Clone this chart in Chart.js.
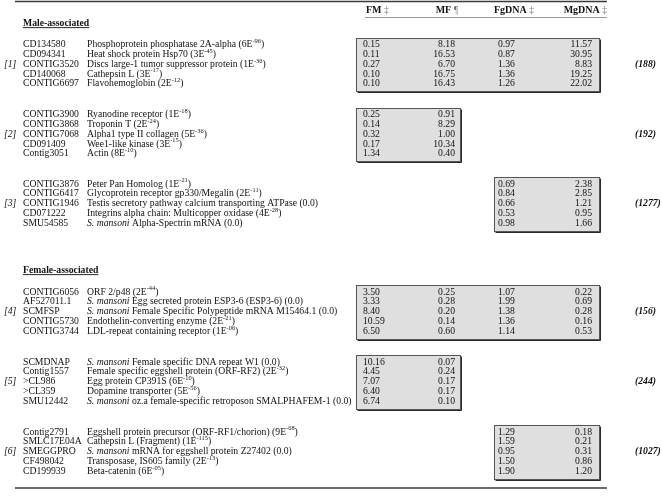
<!DOCTYPE html>
<html><head><meta charset="utf-8">
<script src="https://cdn.jsdelivr.net/npm/chart.js@4.4.1/dist/chart.umd.min.js"></script>
<style>html,body{margin:0;padding:0;background:#fff}canvas{display:block}</style>
</head><body>
<canvas id="c" width="662" height="496"></canvas>
<script>
// ---------------- DATA ----------------
const sections = ['Male-associated', 'Female-associated'];
const groupLabels = ['[1]', '[2]', '[3]', '[4]', '[5]', '[6]'];
const groupCounts = ['(188)', '(192)', '(1277)', '(156)', '(244)', '(1027)'];
const columnHeaders = ['FM', 'MF', 'FgDNA', 'MgDNA'];
const headerMarks = ['\u2021', '\u00B6', '\u2021', '\u2021'];

const ids = [
  'CD134580','CD094341','CONTIG3520','CD140068','CONTIG6697',
  'CONTIG3900','CONTIG3868','CONTIG7068','CD091409','Contig3051',
  'CONTIG3876','CONTIG6417','CONTIG1946','CD071222','SMU54585',
  'CONTIG6056','AF527011.1','SCMFSP','CONTIG5730','CONTIG3744',
  'SCMDNAP','Contig1557','>CL986','>CL359','SMU12442',
  'Contig2791','SMLC17E04A','SMEGGPRO','CF498042','CD199939'
];
const descriptions = [
  'Phosphoprotein phosphatase 2A-alpha','Heat shock protein Hsp70','Discs large-1 tumor suppressor protein','Cathepsin L','Flavohemoglobin',
  'Ryanodine receptor','Troponin T','Alpha1 type II collagen','Wee1-like kinase','Actin',
  'Peter Pan Homolog','Glycoprotein receptor gp330/Megalin','Testis secretory pathway calcium transporting ATPase','Integrins alpha chain: Multicopper oxidase','S. mansoni Alpha-Spectrin mRNA',
  'ORF 2/p48','S. mansoni Egg secreted protein ESP3-6 (ESP3-6)','S. mansoni Female Specific Polypeptide mRNA M15464.1','Endothelin-converting enzyme','LDL-repeat containing receptor',
  'S. mansoni Female specific DNA repeat W1','Female specific eggshell protein (ORF-RF2)','Egg protein CP391S','Dopamine transporter','S. mansoni oz.a female-specific retroposon SMALPHAFEM-1',
  'Eggshell protein precursor (ORF-RF1/chorion)','Cathepsin L (Fragment)','S. mansoni mRNA for eggshell protein Z27402','Transposase, IS605 family','Beta-catenin'
];
const eValues = [
  '6E-96','3E-45','1E-36','3E-17','2E-12',
  '1E-18','2E-24','5E-36','3E-15','8E-10',
  '1E-21','2E-11','0.0','4E-28','0.0',
  '2E-44','0.0','0.0','2E-21','1E-06',
  '0.0','2E-32','6E-10','5E-56','0.0',
  '9E-68','1E-115','0.0','2E-13','6E-05'
];
const fmValues = [0.15,0.11,0.27,0.10,0.10, 0.25,0.14,0.32,0.17,1.34, null,null,null,null,null,
  3.50,3.33,8.40,10.59,6.50, 10.16,4.45,7.07,6.40,6.74, null,null,null,null,null];
const mfValues = [8.18,16.53,6.70,16.75,16.43, 0.91,8.29,1.00,10.34,0.40, null,null,null,null,null,
  0.25,0.28,0.20,0.14,0.60, 0.07,0.24,0.17,0.17,0.10, null,null,null,null,null];
const fgDnaValues = [0.97,0.87,1.36,1.36,1.26, null,null,null,null,null, 0.69,0.84,0.66,0.53,0.98,
  1.07,1.99,1.38,1.36,1.14, null,null,null,null,null, 1.29,1.59,0.95,1.50,1.90];
const mgDnaValues = [11.57,30.95,8.83,19.25,22.02, null,null,null,null,null, 2.38,2.85,1.21,0.95,1.66,
  0.22,0.69,0.28,0.16,0.53, null,null,null,null,null, 0.18,0.21,0.31,0.86,1.20];
const rowsPerGroup = 5;

// ---------------- LAYOUT ----------------
const W = 662, H = 496;
const FONT = '"Liberation Serif","Times New Roman",serif';
const BODY = 9.7;
const ROW_STEP = 9.85;
const groupFirstRowY = [44.5, 114.5, 184, 292, 362, 432];
const sectionY = [23, 270];
const X_LABEL = 4, X_ID = 23, X_DESC = 87, X_COUNT = 635;
const colAnchorX = [363, 455, 498, 592];
const colAlign = ['left', 'right', 'left', 'right'];
const headerX = [366, 458, 494, 607];
const headerAlign = ['left', 'right', 'left', 'right'];
const boxLeft = [356, 356, 494, 494];
const boxRight = [460, 460, 599, 599];
const columns = [fmValues, mfValues, fgDnaValues, mgDnaValues];

function rowY(i) {
  const g = Math.floor(i / rowsPerGroup);
  return groupFirstRowY[g] + (i % rowsPerGroup) * ROW_STEP;
}

const datasets = columns.map((vals, c) => ({
  label: columnHeaders[c],
  data: vals.map((v, i) => v == null ? null : { x: colAnchorX[c], y: rowY(i), v: v }).filter(d => d),
  pointRadius: 0, pointHoverRadius: 0, showLine: false
}));

function f(size, weight, style) {
  return (style || '') + ' ' + (weight || '') + ' ' + size + 'px ' + FONT;
}

function drawDesc(ctx, x, y, desc, ev) {
  const parts = [];
  if (desc.startsWith('S. mansoni ')) {
    parts.push({ t: 'S. mansoni', it: true });
    parts.push({ t: desc.slice(10) });
  } else parts.push({ t: desc });
  if (ev === '0.0') parts.push({ t: ' (0.0)' });
  else {
    const k = ev.indexOf('E');
    parts.push({ t: ' (' + ev.slice(0, k + 1) });
    parts.push({ t: ev.slice(k + 1), sup: true });
    parts.push({ t: ')' });
  }
  let cx = x;
  ctx.textAlign = 'left';
  for (const p of parts) {
    if (p.sup) {
      ctx.font = f(6.4);
      ctx.fillText(p.t, cx, y - 3.3);
    } else {
      ctx.font = f(BODY, '', p.it ? 'italic' : '');
      ctx.fillText(p.t, cx, y);
    }
    cx += ctx.measureText(p.t).width;
  }
}

const tablePlugin = {
  id: 'tablePlugin',
  beforeDatasetsDraw(chart) {
    const ctx = chart.ctx, sx = chart.scales.x, sy = chart.scales.y;
    ctx.save();
    ctx.strokeStyle = '#3a3a3a';
    ctx.lineWidth = 1.6;
    [1.5, 488].forEach(yy => {
      ctx.beginPath();
      ctx.moveTo(sx.getPixelForValue(15), sy.getPixelForValue(yy));
      ctx.lineTo(sx.getPixelForValue(607), sy.getPixelForValue(yy));
      ctx.stroke();
    });
    ctx.strokeStyle = '#9a9a9a';
    ctx.lineWidth = 1;
    ctx.beginPath();
    ctx.moveTo(sx.getPixelForValue(365), sy.getPixelForValue(17.5));
    ctx.lineTo(sx.getPixelForValue(607), sy.getPixelForValue(17.5));
    ctx.stroke();
    for (let g = 0; g < groupLabels.length; g++) {
      const used = columns.map(col => col.slice(g * rowsPerGroup, (g + 1) * rowsPerGroup).some(v => v != null));
      const first = used.indexOf(true), last = used.lastIndexOf(true);
      const x0 = Math.round(sx.getPixelForValue(boxLeft[first])) + 0.5;
      const x1 = Math.round(sx.getPixelForValue(boxRight[last])) + 0.5;
      const y0 = Math.round(sy.getPixelForValue(groupFirstRowY[g] - 7)) + 0.5;
      const y1 = Math.round(sy.getPixelForValue(groupFirstRowY[g] + 4 * ROW_STEP + 7.5)) + 0.5;
      ctx.fillStyle = '#dfdfdf';
      ctx.fillRect(x0, y0, x1 - x0, y1 - y0);
      ctx.strokeStyle = '#555';
      ctx.lineWidth = 1;
      ctx.strokeRect(x0, y0, x1 - x0, y1 - y0);
      ctx.strokeStyle = '#2a2a2a';
      ctx.beginPath();
      ctx.moveTo(x1 + 1, y0 + 1); ctx.lineTo(x1 + 1, y1 + 1); ctx.lineTo(x0 + 1, y1 + 1);
      ctx.stroke();
    }
    ctx.restore();
  },
  afterDatasetsDraw(chart) {
    const ctx = chart.ctx, sx = chart.scales.x, sy = chart.scales.y;
    ctx.save();
    ctx.fillStyle = '#111';
    ctx.textBaseline = 'middle';
    const hy = sy.getPixelForValue(10);
    columnHeaders.forEach((h, c) => {
      ctx.font = f(10, 'bold');
      const wH = ctx.measureText(h + ' ').width;
      ctx.font = f(9.5);
      const wM = ctx.measureText(headerMarks[c]).width;
      let x = sx.getPixelForValue(headerX[c]);
      if (headerAlign[c] === 'right') x -= wH + wM;
      ctx.textAlign = 'left';
      ctx.font = f(10, 'bold');
      ctx.fillStyle = '#111';
      ctx.fillText(h + ' ', x, hy);
      ctx.font = f(9.5);
      ctx.fillStyle = '#777';
      ctx.fillText(headerMarks[c], x + wH, hy);
    });
    ctx.fillStyle = '#111';
    sections.forEach((s, k) => {
      const x = sx.getPixelForValue(X_ID), y = sy.getPixelForValue(sectionY[k]);
      ctx.font = f(BODY, 'bold');
      ctx.textAlign = 'left';
      ctx.fillText(s, x, y);
      const w = ctx.measureText(s).width;
      ctx.fillRect(x, y + 4.2, w, 0.9);
    });
    ids.forEach((id, i) => {
      const y = sy.getPixelForValue(rowY(i));
      ctx.font = f(BODY);
      ctx.textAlign = 'left';
      ctx.fillText(id, sx.getPixelForValue(X_ID), y);
      drawDesc(ctx, sx.getPixelForValue(X_DESC), y, descriptions[i], eValues[i]);
    });
    groupLabels.forEach((lab, g) => {
      const y = sy.getPixelForValue(groupFirstRowY[g] + 2 * ROW_STEP);
      ctx.textAlign = 'left';
      ctx.font = f(BODY, '', 'italic');
      ctx.fillText(lab, sx.getPixelForValue(X_LABEL), y);
      ctx.font = f(BODY, 'bold', 'italic');
      ctx.fillText(groupCounts[g], sx.getPixelForValue(X_COUNT), y);
    });
    chart.data.datasets.forEach((ds, c) => {
      const meta = chart.getDatasetMeta(c);
      ctx.font = f(BODY);
      ctx.textAlign = colAlign[c];
      meta.data.forEach((el, j) => {
        ctx.fillText(ds.data[j].v.toFixed(2), el.x, el.y);
      });
    });
    ctx.restore();
  }
};

new Chart(document.getElementById('c'), {
  type: 'scatter',
  data: { datasets },
  options: {
    responsive: false,
    animation: false,
    layout: { padding: 0 },
    plugins: { legend: { display: false }, tooltip: { enabled: false } },
    scales: {
      x: { type: 'linear', min: 0, max: W, display: false },
      y: { type: 'linear', min: 0, max: H, reverse: true, display: false }
    }
  },
  plugins: [tablePlugin]
});
</script>
</body></html>
